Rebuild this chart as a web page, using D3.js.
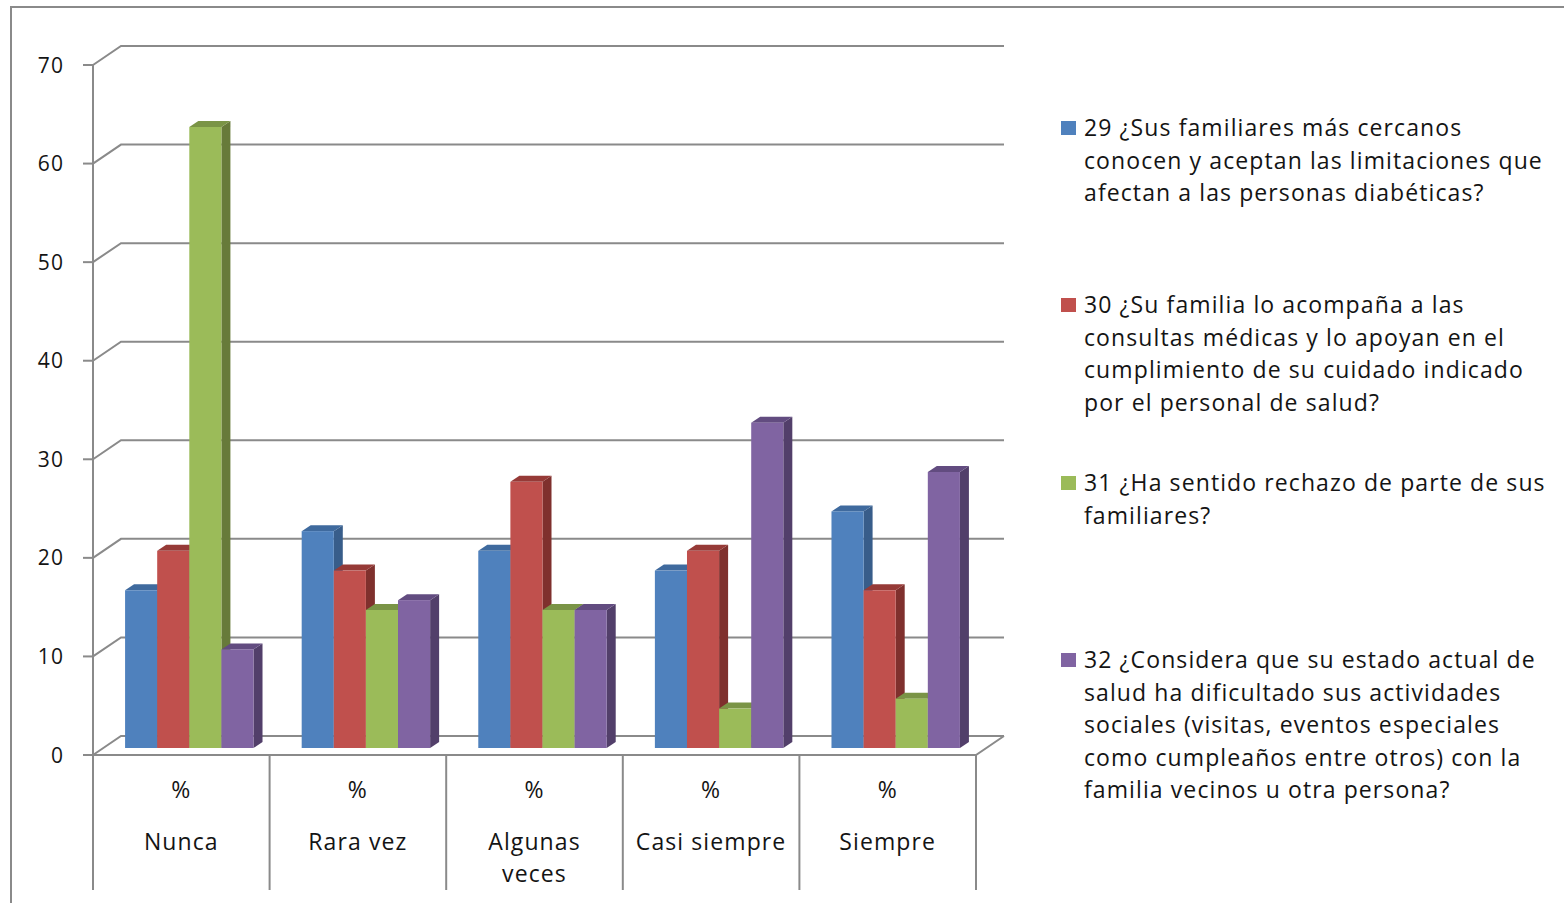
<!DOCTYPE html>
<html>
<head>
<meta charset="utf-8">
<script src="https://cdn.jsdelivr.net/npm/d3@7"></script>
<style>
  html, body { margin: 0; padding: 0; background: #fff; }
  svg { display: block; }
  text { font-family: "Open Sans", Lato, sans-serif; fill: #141414; letter-spacing: 1.1px; }
</style>
</head>
<body>
<svg id="chart" width="1564" height="903"></svg>
<script>
// Categories and per-question percentages
const categories = ["Nunca", "Rara vez", "Algunas veces", "Casi siempre", "Siempre"];
const categoryUnit = "%";
const seriesKeys = ["q29", "q30", "q31", "q32"];
const q29 = [16, 22, 20, 18, 24];
const q30 = [20, 18, 27, 20, 16];
const q31 = [63, 14, 14, 4, 5];
const q32 = [10, 15, 14, 33, 28];
const yTicks = [0, 10, 20, 30, 40, 50, 60, 70];

const legendLines = [
  ["29 ¿Sus familiares más cercanos", "conocen y aceptan las limitaciones que", "afectan a las personas diabéticas?"],
  ["30 ¿Su familia lo acompaña a las", "consultas médicas y lo apoyan en el", "cumplimiento de su cuidado indicado", "por el personal de salud?"],
  ["31 ¿Ha sentido rechazo de parte de sus", "familiares?"],
  ["32 ¿Considera que su estado actual de", "salud ha dificultado sus actividades", "sociales (visitas, eventos especiales", "como cumpleaños entre otros) con la", "familia vecinos u otra persona?"]
];

const seriesValues = [q29, q30, q31, q32];
const frontColors = ["#4F81BD", "#C0504D", "#9BBB59", "#8064A2"];
const sideColors  = ["#385D8A", "#7F302D", "#677A3A", "#523F6A"];
const topColors   = ["#3F6A9E", "#963A37", "#7A9446", "#624C80"];

const FS = 23;       // legend and category text
const FS_TICK = 21;  // value axis numbers
const svg = d3.select("#chart");

// outer chart frame
svg.append("rect")
  .attr("x", 11).attr("y", 7).attr("width", 1700).attr("height", 1000)
  .attr("fill", "none").attr("stroke", "#8a8a8a").attr("stroke-width", 2);

const x = d3.scaleBand().domain(categories).range([93, 976]).paddingInner(0).paddingOuter(0);
const xs = d3.scaleBand().domain(seriesKeys).range([0, x.bandwidth()]).paddingInner(0).paddingOuter(0.75);
const y = d3.scaleLinear().domain([0, 70]).range([755, 65]);

// 3D projection offsets
const wallDx = 28, wallDy = -19;   // back wall depth
const barDx = 8, barDy = -7;       // bar row position in depth
const depthDx = 9, depthDy = -6;   // bar thickness

const gridColor = "#8a8a8a";
const g = svg.append("g");

// back wall gridlines with side-wall diagonals
yTicks.forEach(t => {
  const yf = y(t), yb = y(t) + wallDy;
  g.append("path")
    .attr("d", `M${x.range()[0]},${yf}L${x.range()[0] + wallDx},${yb}L${x.range()[1] + wallDx},${yb}`)
    .attr("fill", "none").attr("stroke", gridColor).attr("stroke-width", 2);
});

// floor: front edge and right edge
g.append("path")
  .attr("d", `M${x.range()[0]},${y(0)}L${x.range()[1]},${y(0)}L${x.range()[1] + wallDx},${y(0) + wallDy}`)
  .attr("fill", "none").attr("stroke", gridColor).attr("stroke-width", 2);

// value axis
g.append("line")
  .attr("x1", 93).attr("x2", 93).attr("y1", y(70)).attr("y2", y(0))
  .attr("stroke", gridColor).attr("stroke-width", 2);
yTicks.forEach(t => {
  g.append("line")
    .attr("x1", 83).attr("x2", 93).attr("y1", y(t)).attr("y2", y(t))
    .attr("stroke", gridColor).attr("stroke-width", 2);
  g.append("text")
    .attr("x", 64).attr("y", y(t)).attr("dy", "0.36em")
    .attr("text-anchor", "end").attr("font-size", FS_TICK)
    .text(t);
});

// category dividers
categories.concat([null]).forEach(c => {
  const xp = c === null ? x.range()[1] : x(c);
  g.append("line")
    .attr("x1", xp).attr("x2", xp).attr("y1", y(0)).attr("y2", 890)
    .attr("stroke", gridColor).attr("stroke-width", 2);
});

// category labels, wrapped to fit the band
function wrapLines(txt, maxW, size) {
  const probe = svg.append("text").attr("font-size", size);
  const words = txt.split(" ");
  const lines = [];
  let cur = "";
  words.forEach(w => {
    const t = cur ? cur + " " + w : w;
    probe.text(t);
    if (probe.node().getComputedTextLength() > maxW && cur) { lines.push(cur); cur = w; }
    else cur = t;
  });
  lines.push(cur);
  probe.remove();
  return lines;
}
categories.forEach(c => {
  const cx = x(c) + x.bandwidth() / 2;
  g.append("text").attr("x", cx).attr("y", 790).attr("dy", "0.36em")
    .attr("text-anchor", "middle").attr("font-size", FS).text(categoryUnit);
  const lines = wrapLines(c, 158, FS);
  lines.forEach((ln, k) => {
    g.append("text").attr("x", cx).attr("y", 842 + k * 32).attr("dy", "0.36em")
      .attr("text-anchor", "middle").attr("font-size", FS).text(ln);
  });
});

// bars, drawn left to right so nearer faces overlap the sides of previous bars
const bars = g.append("g");
categories.forEach((c, ci) => {
  seriesKeys.forEach((k, si) => {
    const v = seriesValues[si][ci];
    const x0 = x(c) + xs(k) + barDx;
    const x1 = x0 + xs.bandwidth();
    const yb = y(0) + barDy;
    const yt = y(v) + barDy;
    bars.append("path")
      .attr("d", `M${x1},${yt}L${x1 + depthDx},${yt + depthDy}L${x1 + depthDx},${yb + depthDy}L${x1},${yb}Z`)
      .attr("fill", sideColors[si]);
    bars.append("path")
      .attr("d", `M${x0},${yt}L${x0 + depthDx},${yt + depthDy}L${x1 + depthDx},${yt + depthDy}L${x1},${yt}Z`)
      .attr("fill", topColors[si]);
    bars.append("rect")
      .attr("x", x0).attr("y", yt).attr("width", x1 - x0).attr("height", yb - yt)
      .attr("fill", frontColors[si]);
  });
});

// legend
const legendTops = [128, 305, 483, 660];
legendLines.forEach((lines, i) => {
  const lg = svg.append("g");
  lg.append("rect").attr("x", 1061).attr("y", legendTops[i] - 7).attr("width", 15).attr("height", 14)
    .attr("fill", frontColors[i]);
  lines.forEach((ln, k) => {
    lg.append("text").attr("x", 1084).attr("y", legendTops[i] + k * 32.5).attr("dy", "0.36em")
      .attr("font-size", FS).text(ln);
  });
});
</script>
</body>
</html>
